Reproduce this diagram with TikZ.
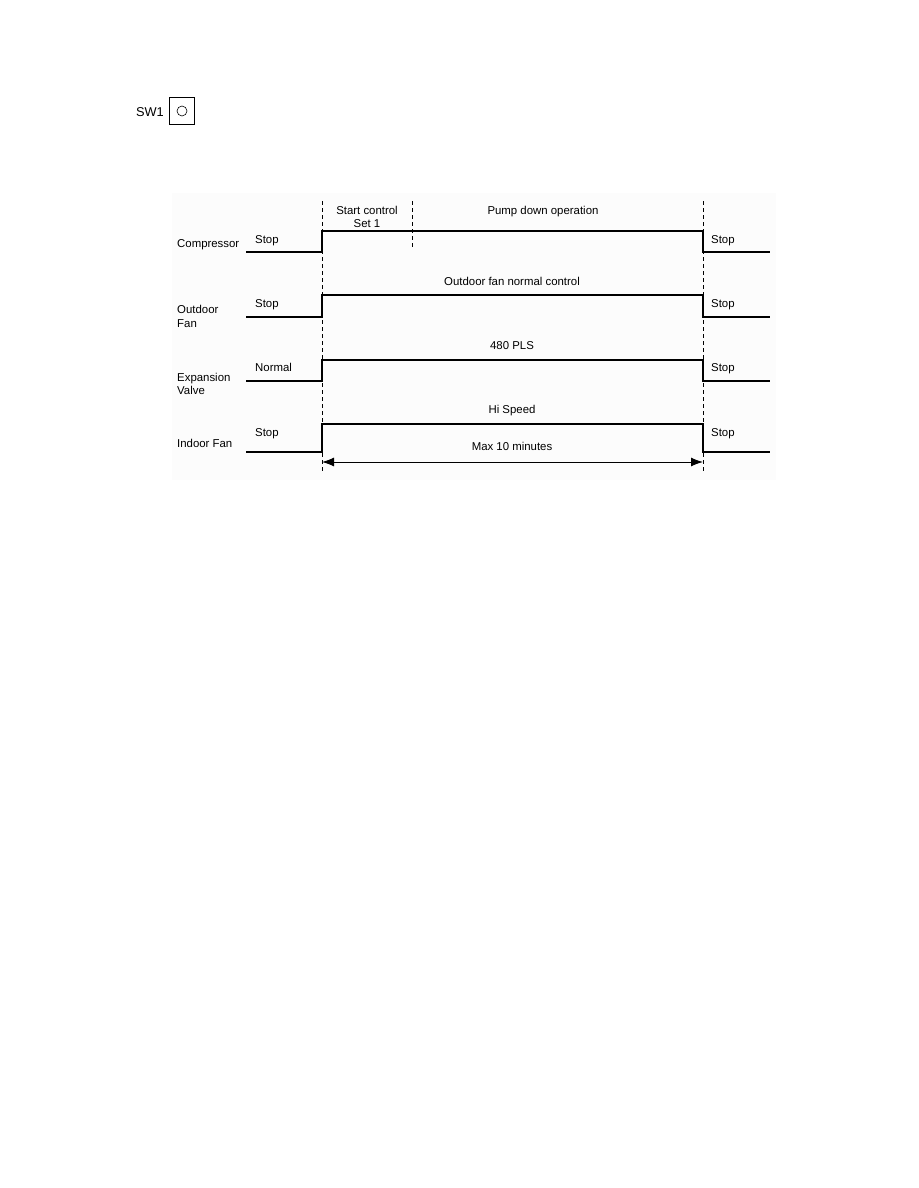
\documentclass[tikz,border=0pt]{standalone}
\usepackage{fontspec}
\setmainfont{Liberation Sans}
\usetikzlibrary{arrows.meta}
\begin{document}
\begin{tikzpicture}[x=1pt,y=-1pt,
  lbl/.style={font=\fontsize{11.4}{13}\selectfont, inner sep=0pt, anchor=base west},
  clbl/.style={font=\fontsize{11.4}{13}\selectfont, inner sep=0pt, anchor=base},
  sig/.style={line width=2pt},
  guide/.style={line width=1pt, dash pattern=on 4pt off 3pt},
  dim/.style={line width=1pt, {Latex[length=12pt,width=9pt]}-{Latex[length=12pt,width=9pt]}}]
\useasboundingbox[fill=white] (0,0) rectangle (918,1188);
\fill[gray!2] (172,193) rectangle (776,480);

% switch
\node[font=\fontsize{12.8}{14}\selectfont, inner sep=0pt, anchor=base east] (sw1) at (164,117) {SW1};
\node[draw, line width=1pt, minimum width=25pt, minimum height=27pt, inner sep=0pt] (swbox) at (182,111) {};
\node[draw, circle, line width=0.6pt, minimum size=10pt, inner sep=0pt] (swc) at (swbox.center) {};

% guides
\coordinate (g1t) at (322,201); \coordinate (g1b) at (322,472);
\coordinate (g2t) at (412,201); \coordinate (g2b) at (412,248);
\coordinate (g3t) at (703,201); \coordinate (g3b) at (703,472);
\draw[guide] (g1t) -- (g1b);
\draw[guide] (g2t) -- (g2b);
\draw[guide] (g3t) -- (g3b);

% signals
\draw[sig] (246,252) -- (322,252) -- (322,231) -- (703,231) -- (703,252) -- (770,252);
\draw[sig] (246,317) -- (322,317) -- (322,295) -- (703,295) -- (703,317) -- (770,317);
\draw[sig] (246,381) -- (322,381) -- (322,360) -- (703,360) -- (703,381) -- (770,381);
\draw[sig] (246,452) -- (322,452) -- (322,424) -- (703,424) -- (703,452) -- (770,452);

% dimension arrow
\coordinate (a1) at (322,462); \coordinate (a2) at (703,462);
\draw[dim] (a1) -- (a2);

% row labels
\node[lbl] (lc) at (177,247) {Compressor};
\node[lbl] (lo1) at (177,313) {Outdoor};
\node[lbl] (lo2) at (177,327) {Fan};
\node[lbl] (le1) at (177,381) {Expansion};
\node[lbl] (le2) at (177,394) {Valve};
\node[lbl] (li) at (177,447) {Indoor Fan};

% state labels
\node[lbl] (s1l) at (255,243) {Stop};
\node[lbl] (s2l) at (255,307) {Stop};
\node[lbl] (s3l) at (255,371) {Normal};
\node[lbl] (s4l) at (255,436) {Stop};
\node[lbl] (s1r) at (711,243) {Stop};
\node[lbl] (s2r) at (711,307) {Stop};
\node[lbl] (s3r) at (711,371) {Stop};
\node[lbl] (s4r) at (711,436) {Stop};

\node[clbl] (sc1) at (367,214) {Start control};
\node[clbl] (sc2) at (367,227) {Set 1};
\node[clbl] (pd) at (543,214) {Pump down operation};
\node[clbl] (ofn) at (512,285) {Outdoor fan normal control};
\node[clbl] (pls) at (512,349) {480 PLS};
\node[clbl] (hs) at (512,413) {Hi Speed};
\node[clbl] (mx) at (512,450) {Max 10 minutes};
\end{tikzpicture}
\end{document}
